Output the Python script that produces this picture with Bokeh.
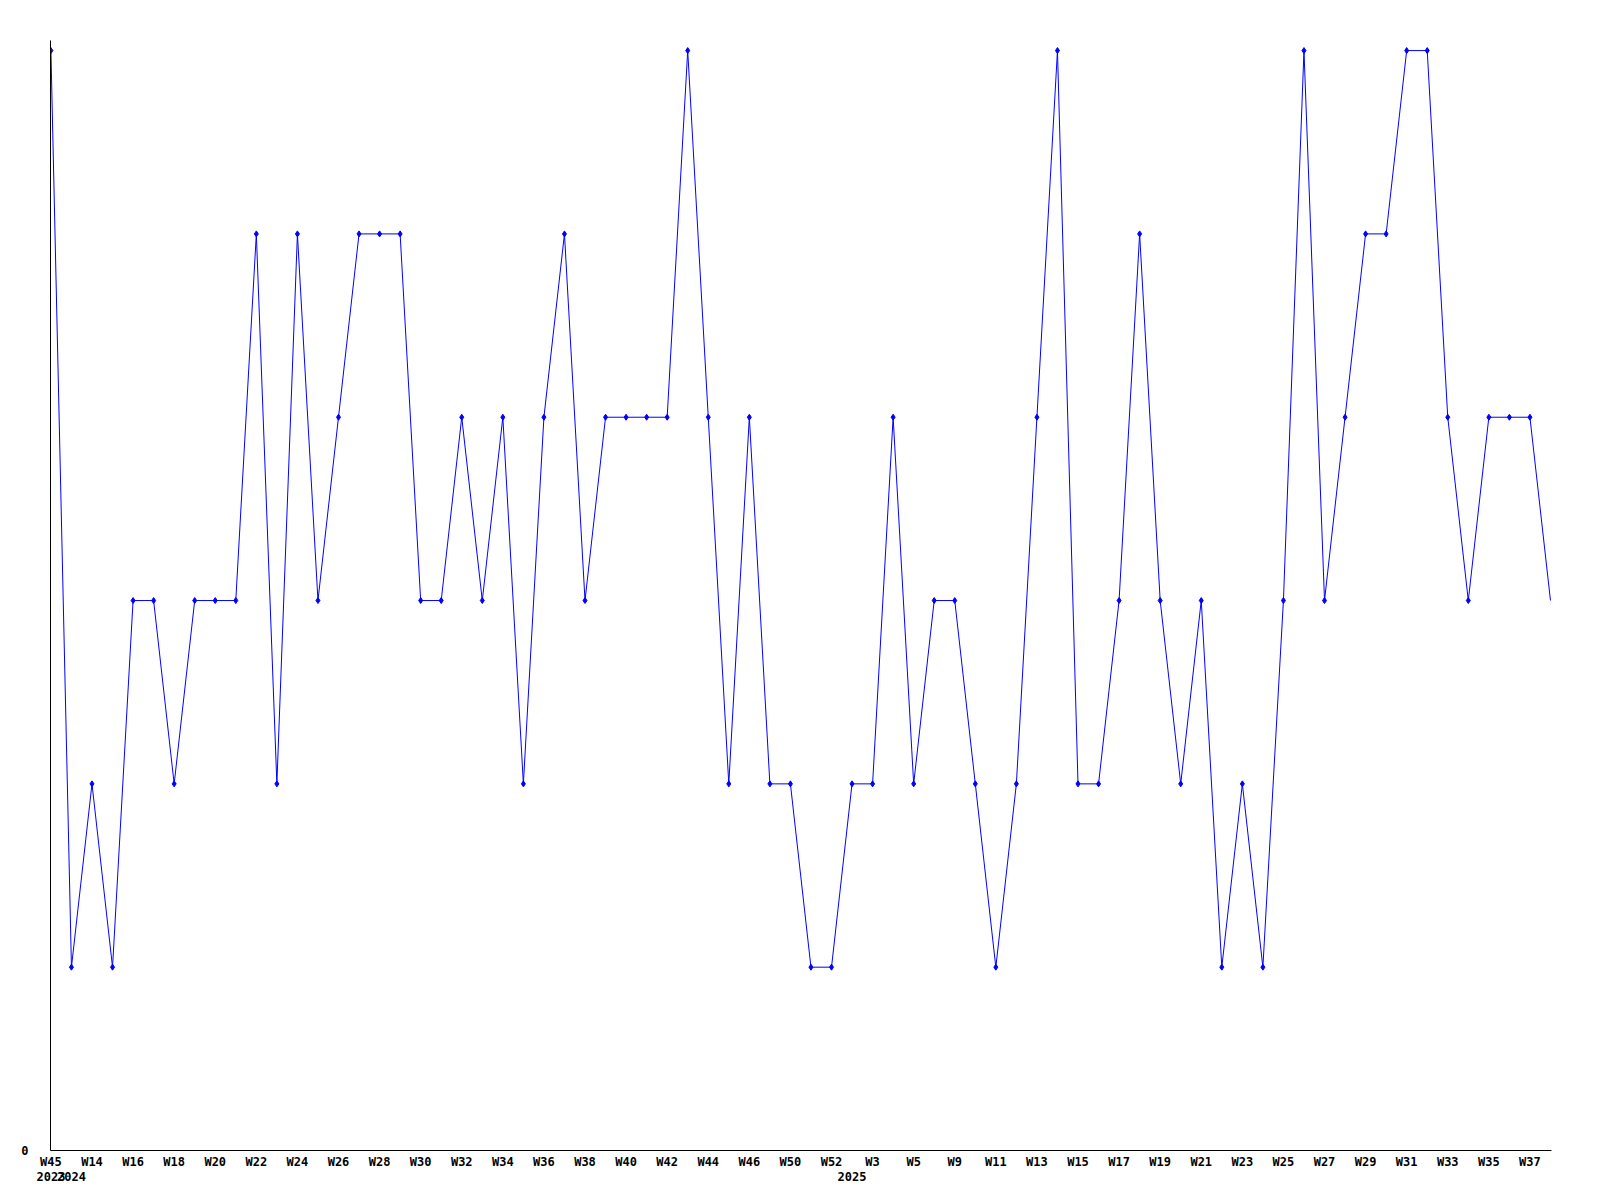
from bokeh.plotting import figure
from bokeh.models import Range1d, FixedTicker, LinearAxis, ColumnDataSource, CDSView, IndexFilter
from bokeh.embed import file_html
from bokeh.resources import INLINE

weeks = ["W45", "W13", "W14", "W15", "W16", "W17", "W18", "W19", "W20", "W21",
         "W22", "W23", "W24", "W25", "W26", "W27", "W28", "W29", "W30", "W31",
         "W32", "W33", "W34", "W35", "W36", "W37", "W38", "W39", "W40", "W41",
         "W42", "W43", "W44", "W45", "W46", "W48", "W50", "W51", "W52", "W1",
         "W3", "W4", "W5", "W7", "W9", "W10", "W11", "W12", "W13", "W14",
         "W15", "W16", "W17", "W18", "W19", "W20", "W21", "W22", "W23", "W24",
         "W25", "W26", "W27", "W28", "W29", "W30", "W31", "W32", "W33", "W34",
         "W35", "W36", "W37", "W38"]
years = [2023] + [2024] * 38 + [2025] * 35
values = [6, 1, 2, 1, 3, 3, 2, 3, 3, 3,
          5, 2, 5, 3, 4, 5, 5, 5, 3, 3,
          4, 3, 4, 2, 4, 5, 3, 4, 4, 4,
          4, 6, 4, 2, 4, 2, 2, 1, 1, 2,
          2, 4, 2, 3, 3, 2, 1, 2, 4, 6,
          2, 2, 3, 5, 3, 2, 3, 1, 2, 1,
          3, 6, 3, 4, 5, 5, 6, 6, 4, 3,
          4, 4, 4, 3]

n = len(values)
idx = list(range(n))
src = ColumnDataSource(dict(x=idx, y=values))

FONT = "DejaVu Sans Mono"

p = figure(output_backend="svg", toolbar_location=None,
           frame_width=1501, frame_height=1110,
           min_border_left=50, min_border_right=40, min_border_top=40, min_border_bottom=42,
           x_range=Range1d(-0.02, n - 1 + 0.05), y_range=Range1d(0, 6.055),
           x_axis_type=None, y_axis_type=None)
p.outline_line_color = None
p.xgrid.visible = False
p.ygrid.visible = False

p.line("x", "y", source=src, line_color="#0000ff", line_width=1)
p.scatter("x", "y", source=src, view=CDSView(filter=IndexFilter(idx[:-1])),
          marker="diamond", size=6, fill_color="#0000ff", line_color="#0000ff")

def style(ax):
    ax.major_tick_line_color = None
    ax.minor_tick_line_color = None
    ax.major_tick_out = 0
    ax.major_tick_in = 0
    ax.minor_tick_out = 0
    ax.minor_tick_in = 0
    ax.major_label_text_font = FONT
    ax.major_label_text_font_style = "bold"
    ax.major_label_text_font_size = "12px"
    ax.major_label_text_color = "black"
    ax.axis_line_color = "black"

# week axis
even = idx[0::2]
xa = LinearAxis(ticker=FixedTicker(ticks=even),
                major_label_overrides={i: weeks[i] for i in even})
style(xa)
xa.major_label_standoff = 4
p.add_layout(xa, "below")

# year axis
ystarts = [i for i in idx if i == 0 or years[i] != years[i - 1]]
ya2 = LinearAxis(ticker=FixedTicker(ticks=ystarts),
                 major_label_overrides={i: str(years[i]) for i in ystarts})
style(ya2)
ya2.axis_line_color = None
ya2.major_label_standoff = 0
p.add_layout(ya2, "below")

# y axis
yax = LinearAxis(ticker=FixedTicker(ticks=[0]))
style(yax)
yax.major_label_standoff = 22
p.add_layout(yax, "left")

open("out.html", "w").write(file_html(p, INLINE))
